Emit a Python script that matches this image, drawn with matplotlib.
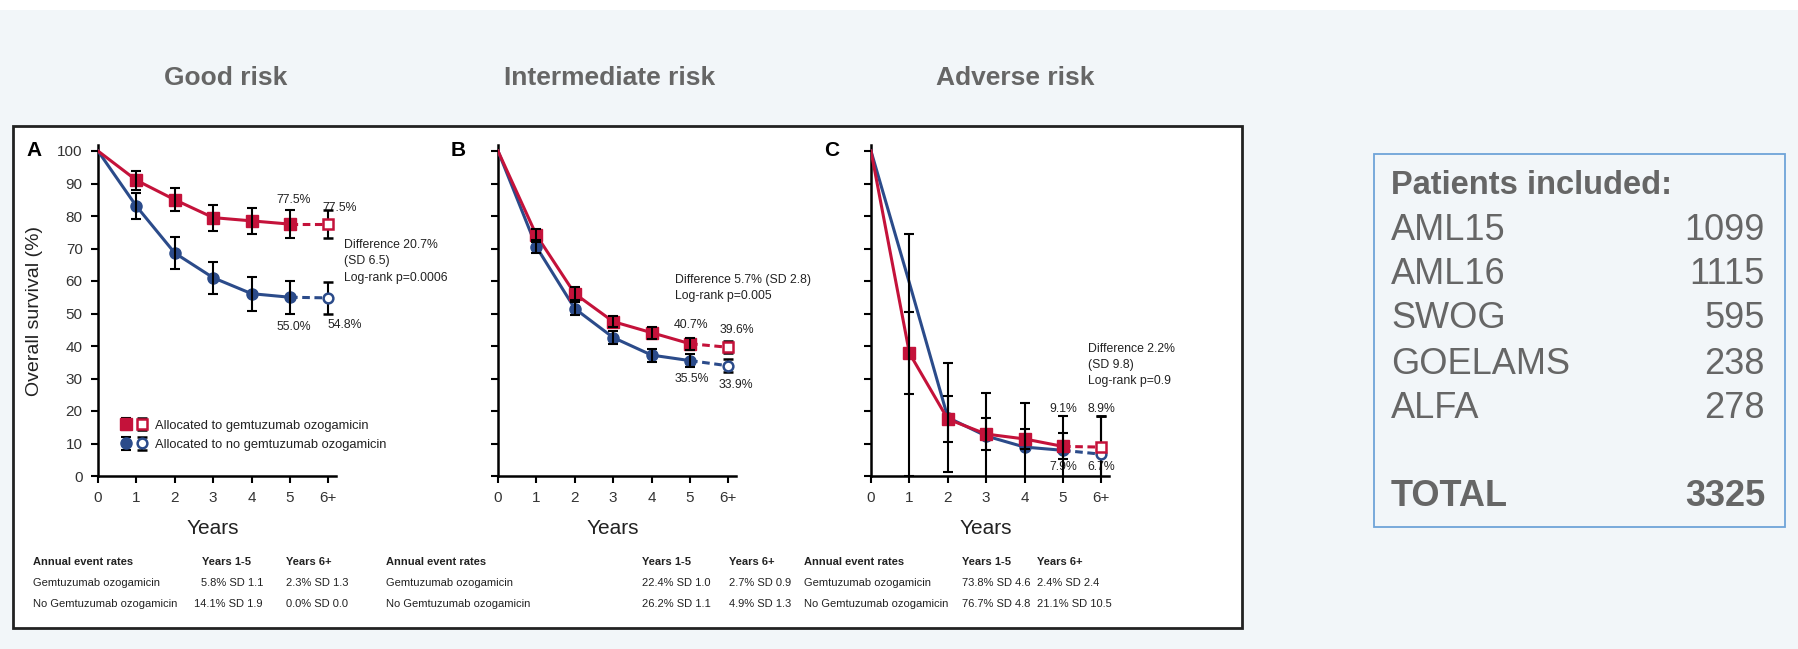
import matplotlib.pyplot as plt
from matplotlib.patches import Rectangle
from matplotlib.legend_handler import HandlerTuple

# ---------------------------------------------------------------
# Overall survival by cytogenetic risk, gemtuzumab ozogamicin vs none
# ---------------------------------------------------------------

years = [0, 1, 2, 3, 4, 5, 6]
year_labels = ['0', '1', '2', '3', '4', '5', '6+']
risk_titles = ['Good risk', 'Intermediate risk', 'Adverse risk']
panel_letters = ['A', 'B', 'C']

go_good = [100, 91, 85, 79.5, 78.5, 77.5, 77.5]
go_good_sd = [0, 3, 3.6, 4, 4, 4.2, 4.2]
nogo_good = [100, 83, 68.6, 61, 56.1, 55.0, 54.8]
nogo_good_sd = [0, 4, 5, 5, 5.2, 5, 5]

go_inter = [100, 74.1, 56.1, 47.5, 44.1, 40.7, 39.6]
go_inter_sd = [0, 2, 2, 1.8, 1.8, 1.8, 1.8]
nogo_inter = [100, 70.5, 51.5, 42.6, 37.2, 35.5, 33.9]
nogo_inter_sd = [0, 2, 2, 2, 2, 2, 2]

go_adverse = [100, 37.8, 17.5, 12.9, 11.4, 9.1, 8.9]
go_adverse_sd = [0, 12.6, 7, 4.9, 3, 4, 9.6]
nogo_adverse = [100, 59.4, 18, 12.3, 8.9, 7.9, 6.7]
nogo_adverse_sd_low = [0, 59.4, 16.8, 13.2, 13.6, 10.6, 11.8]
nogo_adverse_sd_high = [0, 15.1, 16.8, 13.2, 13.6, 10.6, 11.8]

diff_notes = ['Difference 20.7%\n(SD 6.5)\nLog-rank p=0.0006',
              'Difference 5.7% (SD 2.8)\nLog-rank p=0.005',
              'Difference 2.2%\n(SD 9.8)\nLog-rank p=0.9']

rate_go_15 = ['5.8% SD 1.1', '22.4% SD 1.0', '73.8% SD 4.6']
rate_go_6 = ['2.3% SD 1.3', '2.7% SD 0.9', '2.4% SD 2.4']
rate_nogo_15 = ['14.1% SD 1.9', '26.2% SD 1.1', '76.7% SD 4.8']
rate_nogo_6 = ['0.0% SD 0.0', '4.9% SD 1.3', '21.1% SD 10.5']

trials = ['AML15', 'AML16', 'SWOG', 'GOELAMS', 'ALFA']
trial_patients = [1099, 1115, 595, 238, 278]
total_patients = 3325

RED = '#c4123a'
BLUE = '#2b4b8a'
GREY = '#666666'
INK = '#222222'
W, H = 1798, 649

plt.rcParams['font.family'] = ['Liberation Sans', 'DejaVu Sans']


def fx(px):
    return px / W


def fy(py):
    return 1 - py / H


def draw_arm(ax, vals, err, color, marker, show_marks=None):
    # solid curve to year 5, dashed on to the 6+ point
    ax.plot(years[:6], vals[:6], color=color, lw=2.2, zorder=3)
    ax.plot(years[5:], vals[5:], color=color, lw=2.2, ls=(0, (2.5, 1.5)), zorder=3)
    idx = [i for i in range(1, 6) if show_marks is None or i in show_marks]
    if isinstance(err[0], list):
        e_all = err
    else:
        e_all = [err, err]
    closed = ax.errorbar([years[i] for i in idx], [vals[i] for i in idx],
                         yerr=[[e_all[0][i] for i in idx], [e_all[1][i] for i in idx]],
                         fmt=marker, ms=8, mfc=color, mec=color, ecolor='black',
                         elinewidth=1.5, capsize=3.5, capthick=1.5, barsabove=True,
                         ls='none', zorder=4)
    if show_marks is not None:
        # error bars at years without a visible marker
        hidden = [i for i in range(1, 6) if i not in show_marks]
        ax.errorbar([years[i] for i in hidden], [vals[i] for i in hidden],
                    yerr=[[e_all[0][i] for i in hidden], [e_all[1][i] for i in hidden]],
                    fmt='none', ecolor='black', elinewidth=1.5, capsize=3.5,
                    capthick=1.5, zorder=4)
    opened = ax.errorbar([years[6]], [vals[6]], yerr=[[e_all[0][6]], [e_all[1][6]]],
                         fmt=marker, ms=7, mfc='white', mec=color, mew=1.8,
                         ecolor='black', elinewidth=1.5, capsize=3.5, capthick=1.5,
                         ls='none', zorder=4)
    return closed, opened


fig = plt.figure(figsize=(W / 100, H / 100), dpi=100)
fig.patch.set_facecolor('white')
fig.patches.append(Rectangle((0, 0), 1, fy(10), transform=fig.transFigure,
                             facecolor='#f2f6f9', edgecolor='none', zorder=-3))
fig.patches.append(Rectangle((fx(13), fy(628)), fx(1242 - 13), (628 - 126) / H,
                             transform=fig.transFigure, facecolor='white',
                             edgecolor='#222222', lw=2, zorder=-2))
fig.patches.append(Rectangle((fx(1374), fy(527)), fx(1785 - 1374), (527 - 154) / H,
                             transform=fig.transFigure, facecolor='none',
                             edgecolor='#6fa3d8', lw=1.3, zorder=-2))

panels = [
    (go_good, go_good_sd, nogo_good, nogo_good_sd, None),
    (go_inter, go_inter_sd, nogo_inter, nogo_inter_sd, None),
    (go_adverse, go_adverse_sd, nogo_adverse,
     [nogo_adverse_sd_low, nogo_adverse_sd_high], [2, 3, 4, 5]),
]
axis_left = [98, 498, 871]
title_x = [226, 610, 1015]
letter_x = [34, 458, 832]
unit_x, unit_y = 38.4, 3.25

for k, (red_v, red_e, blue_v, blue_e, blue_marks) in enumerate(panels):
    x0 = axis_left[k]
    ax = fig.add_axes([fx(x0), fy(476), fx(6.2 * unit_x), 102 * unit_y / H])
    ax.patch.set_alpha(0)
    ax.set_xlim(0, 6.2)
    ax.set_ylim(0, 102)
    for side in ['top', 'right']:
        ax.spines[side].set_visible(False)
    for side in ['left', 'bottom']:
        ax.spines[side].set_linewidth(1.8)
    ax.set_xticks(years)
    ax.set_xticklabels(year_labels)
    ax.set_yticks(range(0, 101, 10))
    ax.tick_params(direction='out', length=5, width=1.5, labelsize=11, pad=6,
                   colors='black', labelcolor='#333333')
    if k > 0:
        ax.set_yticklabels([])

    b_closed, b_open = draw_arm(ax, blue_v, blue_e, BLUE, 'o', blue_marks)
    r_closed, r_open = draw_arm(ax, red_v, red_e, RED, 's')

    fig.text(fx(x0 + 3 * unit_x), fy(529), 'Years', ha='center', va='center',
             fontsize=15, color=INK)
    fig.text(fx(letter_x[k]), fy(150), panel_letters[k], ha='center', va='center',
             fontsize=15, fontweight='bold')
    fig.text(fx(title_x[k]), fy(78), risk_titles[k], ha='center', va='center',
             fontsize=19, fontweight='bold', color=GREY)

    if k == 0:
        ax.legend([(r_closed, r_open), (b_closed, b_open)],
                  ['Allocated to gemtuzumab ozogamicin',
                   'Allocated to no gemtuzumab ozogamicin'],
                  handler_map={tuple: HandlerTuple(ndivide=None, pad=0.5)},
                  loc='upper left', bbox_to_anchor=(0.07, 0.19), frameon=False,
                  fontsize=9.3, handlelength=2.0, handletextpad=0.6,
                  labelspacing=0.55, borderpad=0, labelcolor=INK)

    note = dict(fontsize=8.8, color=INK, ha='center', va='center')
    block = dict(fontsize=8.8, color=INK, ha='left', va='top', linespacing=1.45)
    if k == 0:
        ax.text(5.1, 84.8, '%.1f%%' % red_v[5], **note)
        ax.text(6.3, 82.6, '%.1f%%' % red_v[6], **note)
        ax.text(5.1, 45.9, '%.1f%%' % blue_v[5], **note)
        ax.text(6.42, 46.4, '%.1f%%' % blue_v[6], **note)
        ax.text(6.4, 72.8, diff_notes[k], **block)
    elif k == 1:
        ax.text(5.04, 46.4, '%.1f%%' % red_v[5], **note)
        ax.text(6.23, 44.9, '%.1f%%' % red_v[6], **note)
        ax.text(5.04, 29.7, '%.1f%%' % blue_v[5], **note)
        ax.text(6.19, 28.0, '%.1f%%' % blue_v[6], **note)
        ax.text(4.61, 62.2, diff_notes[k], **block)
    else:
        ax.text(5.0, 20.6, '%.1f%%' % red_v[5], **note)
        ax.text(6.0, 20.6, '%.1f%%' % red_v[6], **note)
        ax.text(5.0, 2.8, '%.1f%%' % blue_v[5], **note)
        ax.text(6.0, 2.8, '%.1f%%' % blue_v[6], **note)
        ax.text(5.66, 40.9, diff_notes[k], **block)

fig.text(fx(35), fy(311), 'Overall survival (%)', rotation=90, ha='center',
         va='center', fontsize=14, color=INK)

# annual event rate tables under each panel
label_col = [33, 386, 804]
col_15 = [(263, 'right', 202), (642, 'left', 642), (962, 'left', 962)]
col_6 = [286, 729, 1037]
tab = dict(fontsize=8, va='center', color=INK)
for k in range(3):
    fig.text(fx(label_col[k]), fy(562), 'Annual event rates', fontweight='bold', **tab)
    fig.text(fx(col_15[k][2]), fy(562), 'Years 1-5', fontweight='bold', **tab)
    fig.text(fx(col_6[k]), fy(562), 'Years 6+', fontweight='bold', **tab)
    fig.text(fx(label_col[k]), fy(583), 'Gemtuzumab ozogamicin', **tab)
    fig.text(fx(label_col[k]), fy(604), 'No Gemtuzumab ozogamicin', **tab)
    fig.text(fx(col_15[k][0]), fy(583), rate_go_15[k], ha=col_15[k][1], **tab)
    fig.text(fx(col_15[k][0]), fy(604), rate_nogo_15[k], ha=col_15[k][1], **tab)
    fig.text(fx(col_6[k]), fy(583), rate_go_6[k], **tab)
    fig.text(fx(col_6[k]), fy(604), rate_nogo_6[k], **tab)

# patients box on the right
fig.text(fx(1391), fy(186), 'Patients included:', fontsize=23.5, fontweight='bold',
         color=GREY, va='center')
row_y = [231, 275, 319, 364, 409]
for name, n, y in zip(trials, trial_patients, row_y):
    fig.text(fx(1391), fy(y), name, fontsize=26, color=GREY, va='center')
    fig.text(fx(1765), fy(y), str(n), fontsize=26, color=GREY, va='center', ha='right')
fig.text(fx(1391), fy(497), 'TOTAL', fontsize=26, fontweight='bold', color=GREY, va='center')
fig.text(fx(1765), fy(497), str(total_patients), fontsize=26, fontweight='bold',
         color=GREY, va='center', ha='right')

fig.savefig('out.png', dpi=100, facecolor=fig.get_facecolor())
